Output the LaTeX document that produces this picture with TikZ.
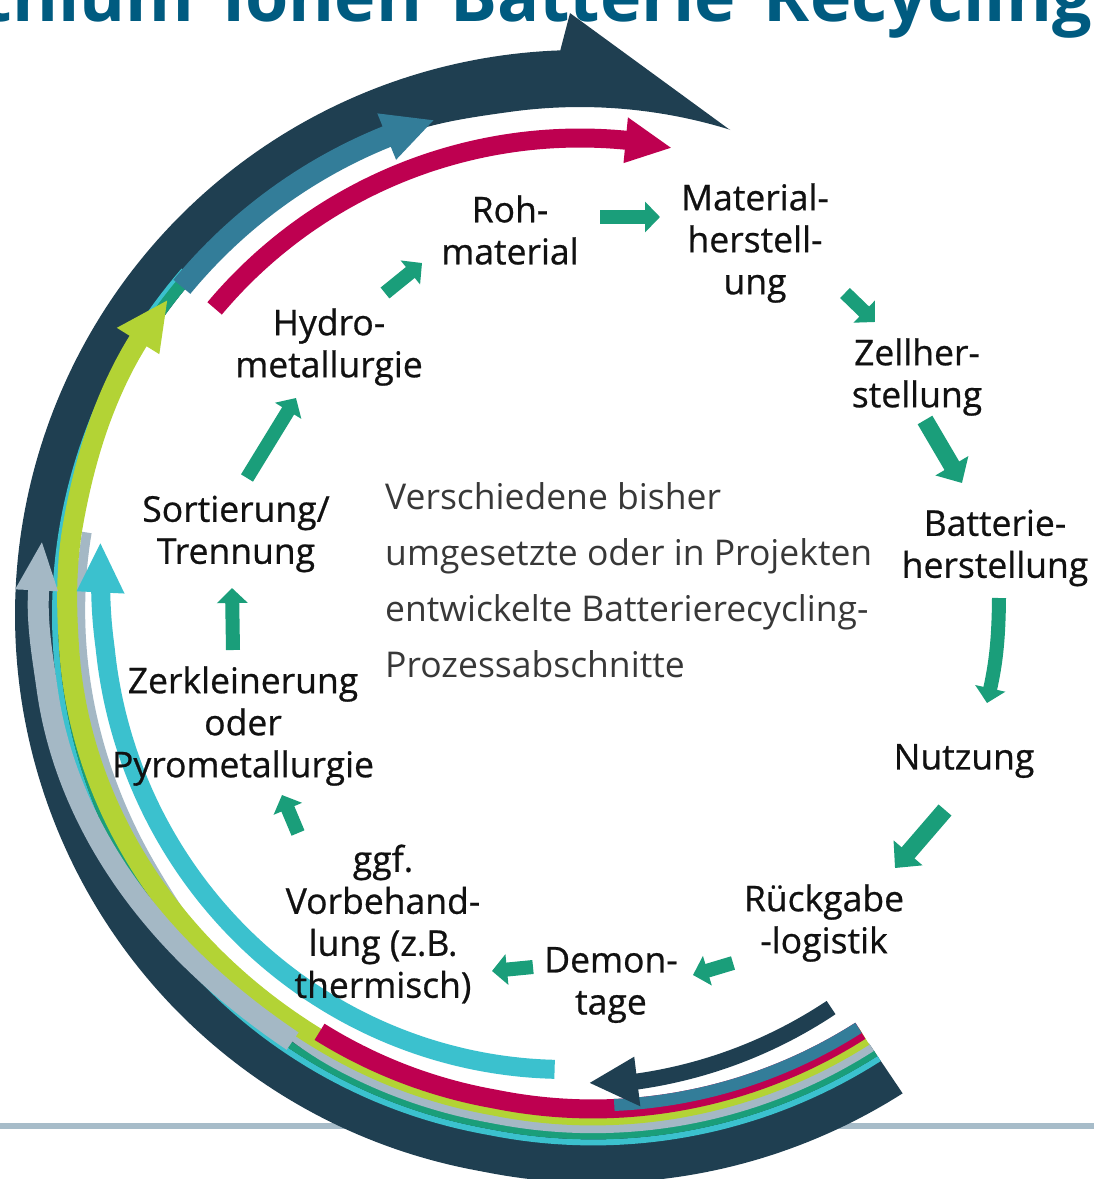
\documentclass[tikz,border=0pt]{standalone}
\usepackage{fontspec}
\setmainfont{Open Sans}
\newfontfamily\stepfam{Open Sans}[FakeBold=0.7]
\usetikzlibrary{arrows.meta}

\definecolor{cNavy}{HTML}{1F3F51}
\definecolor{cSteel}{HTML}{337D99}
\definecolor{cBerry}{HTML}{BE0050}
\definecolor{cLime}{HTML}{B3D335}
\definecolor{cAsh}{HTML}{A4B8C5}
\definecolor{cTeal}{HTML}{1A9E7A}
\definecolor{cAqua}{HTML}{3BC1CE}
\definecolor{cHead}{HTML}{005B80}
\definecolor{cRule}{HTML}{A7BCC9}
\definecolor{cText}{HTML}{111111}
\definecolor{cDesc}{HTML}{383838}

\newcommand\lblfont{\stepfam\fontsize{35.5}{42}\selectfont}
\newcommand\dscfont{\fontsize{35.5}{56}\selectfont}
\newcommand\ttlfont{\fontsize{70}{72}\selectfont\bfseries}
\newcommand\wgap{\hspace{0.4em}}

% band along a polar path: [style]{radius expression in \u}{from angle}{to angle}
\newcommand\arcband[4]{\draw[#1] plot[domain=#3:#4, samples=140, variable=\u] (\u:{#2});}
% arrow head: colour, base angle, centre radius, half width, tip angle, tip radius
\newcommand\headpoly[6]{\fill[#1] (#2:{#3+#4}) -- (#5:#6) -- (#2:{#3-#4}) -- cycle;}

\begin{document}
\begin{tikzpicture}[x=1pt, y=-1pt,
  declare function={
    rmp(\vv,\va,\vb)=min(1,max(0,(\vv-\va)/(\vb-\va)));
    sst(\vv,\va,\vb)=3*rmp(\vv,\va,\vb)^2-2*rmp(\vv,\va,\vb)^3;
    blg(\vv)=10*(1-rmp(\vv,56,100));
  },
  lbl/.style={font=\lblfont, align=center, inner sep=0pt, text=cText},
  dsc/.style={font=\dscfont, align=left, inner sep=0pt, text=cDesc},
  flow/.style={draw=cTeal, line width=14pt, -{Triangle[length=15pt, width=30pt]}},
  bigflow/.style={draw=cTeal, line width=17pt, -{Triangle[length=20pt, width=37pt]}},
]
\useasboundingbox (0,0) rectangle (1094,1179);
\clip (0,0) rectangle (1094,1179);
\fill[white] (0,0) rectangle (1094,1179);

% ground rule
\draw[cRule, line width=6pt] (0,1126) -- (1094,1126);

% title
\node[font=\ttlfont, text=cHead, anchor=base east, inner sep=0pt] (title) at (1092,21) {Lithium\wgap Ionen\wgap Batterie\wgap Recycling};

\begin{scope}[shift={(580,615)}]
  % main loop arrow
  \fill[cNavy]
    plot[domain=56:268, samples=220, variable=\u] (\u:{565+1.2*blg(\u)})
    -- (269.05:602) -- (287.2:507.7)
    -- plot[domain=287.2:56, samples=220, variable=\u] (\u:{508+4*sst(\u,190,205)-4*sst(\u,250,262)+blg(\u)})
    -- cycle;

  % thin inner strips
  \arcband{cAqua, line width=6pt}{525+blg(\u)}{56}{221}
  \arcband{cTeal, line width=7pt}{518.5+blg(\u)}{56}{222}
  \arcband{cTeal, line width=12pt}{518}{200}{222}
  \arcband{cAsh, line width=9.5pt}{511-14*sst(\u,118,150)+3*sst(\u,150,189)+blg(\u)}{56}{189.5}

  % lime route
  \arcband{cLime, line width=20pt}{498+14*sst(\u,120,176)+3*sst(\u,176,190)+5*sst(\u,190,212)+blg(\u)}{56}{212.3}
  \headpoly{cLime}{211.8}{520}{25}{217.3}{519}

  % magenta and blue, lower part
  \arcband{cBerry, line width=19pt}{491.5+blg(\u)}{56}{122}
  \arcband{cSteel, line width=12pt}{488+blg(\u)}{56}{86}

  % outer grey route
  \arcband{cAsh, line width=21pt}{514+24*sst(\u,124,172)+4*sst(\u,172,182)}{124}{183}
  \headpoly{cAsh}{182.6}{544}{21.5}{187.7}{543}

  % inner cyan route
  \arcband{cAqua, line width=19pt}{455+21*rmp(\u,93,176)+4*rmp(\u,176,183)}{93.2}{183}
  \headpoly{cAqua}{182.7}{480}{24}{188.5}{485}

  % magenta and blue, upper part
  \arcband{cBerry, line width=19pt}{477}{220}{276}
  \headpoly{cBerry}{275.5}{477}{23}{281}{476}
  \arcband{cSteel, line width=22pt}{516}{219.5}{248.3}
  \headpoly{cSteel}{248}{516}{25}{253.5}{516}

  % short return arrow
  \arcband{cNavy, line width=16pt}{466+4*rmp(\u,57.4,83)}{57.4}{83.3}
  \headpoly{cNavy}{83}{470}{25}{88.8}{468}
\end{scope}

% process steps
\node[lbl] (roh)   at (510,230) {Roh-\\material};
\node[lbl] (mat)   at (755,243) {Material-\\herstell-\\ung};
\node[lbl] (zell)  at (917,377) {Zellher-\\stellung};
\node[lbl] (batt)  at (995,548) {Batterie-\\herstellung};
\node[lbl] (nutz)  at (964,761) {Nutzung};
\node[lbl] (rueck) at (824,923) {Rückgabe\\-logistik};
\node[lbl] (demo)  at (611,985) {Demon-\\tage};
\node[lbl] (vorb)  at (383,924) {ggf.\\Vorbehand-\\lung (z.B.\\thermisch)};
\node[lbl] (zerk)  at (243,726) {Zerkleinerung\\oder\\Pyrometallurgie};
\node[lbl] (sort)  at (236,534) {Sortierung/\\Trennung};
\node[lbl] (hydro) at (329,347) {Hydro-\\metallurgie};
\node[dsc, anchor=west] (desc) at (385,580) {Verschiedene bisher\\umgesetzte oder in Projekten\\entwickelte Batterierecycling-\\Prozessabschnitte};

% step arrows
\draw[flow] ([shift={(90,-13)}]roh.center) -- ([shift={(-95,-26)}]mat.center);
\draw[flow] ([shift={(90,50)}]mat.center) -- ([shift={(-42,-55)}]zell.center);
\draw[bigflow] ([shift={(8,43)}]zell.center) -- ([shift={(-33,-65)}]batt.center);
\draw[flow] ([shift={(4,50)}]batt.center) to[bend left=6] ([shift={(23,-58)}]nutz.center);
\draw[bigflow] ([shift={(-19,49)}]nutz.center) -- ([shift={(71,-55)}]rueck.center);
\draw[flow] ([shift={(-91,40)}]rueck.center) -- ([shift={(82,-10)}]demo.center);
\draw[flow] ([shift={(-78,-18)}]demo.center) -- ([shift={(109,47)}]vorb.center);
\draw[flow] ([shift={(-85,-91)}]vorb.center) -- ([shift={(39,69)}]zerk.center);
\draw[flow] ([shift={(-10,-76)}]zerk.center) -- ([shift={(-4,54)}]sort.center);
\draw[flow] ([shift={(11,-56)}]sort.center) -- ([shift={(-33,51)}]hydro.center);
\draw[flow] ([shift={(56,-54)}]hydro.center) -- ([shift={(-88,33)}]roh.center);
\end{tikzpicture}
\end{document}
